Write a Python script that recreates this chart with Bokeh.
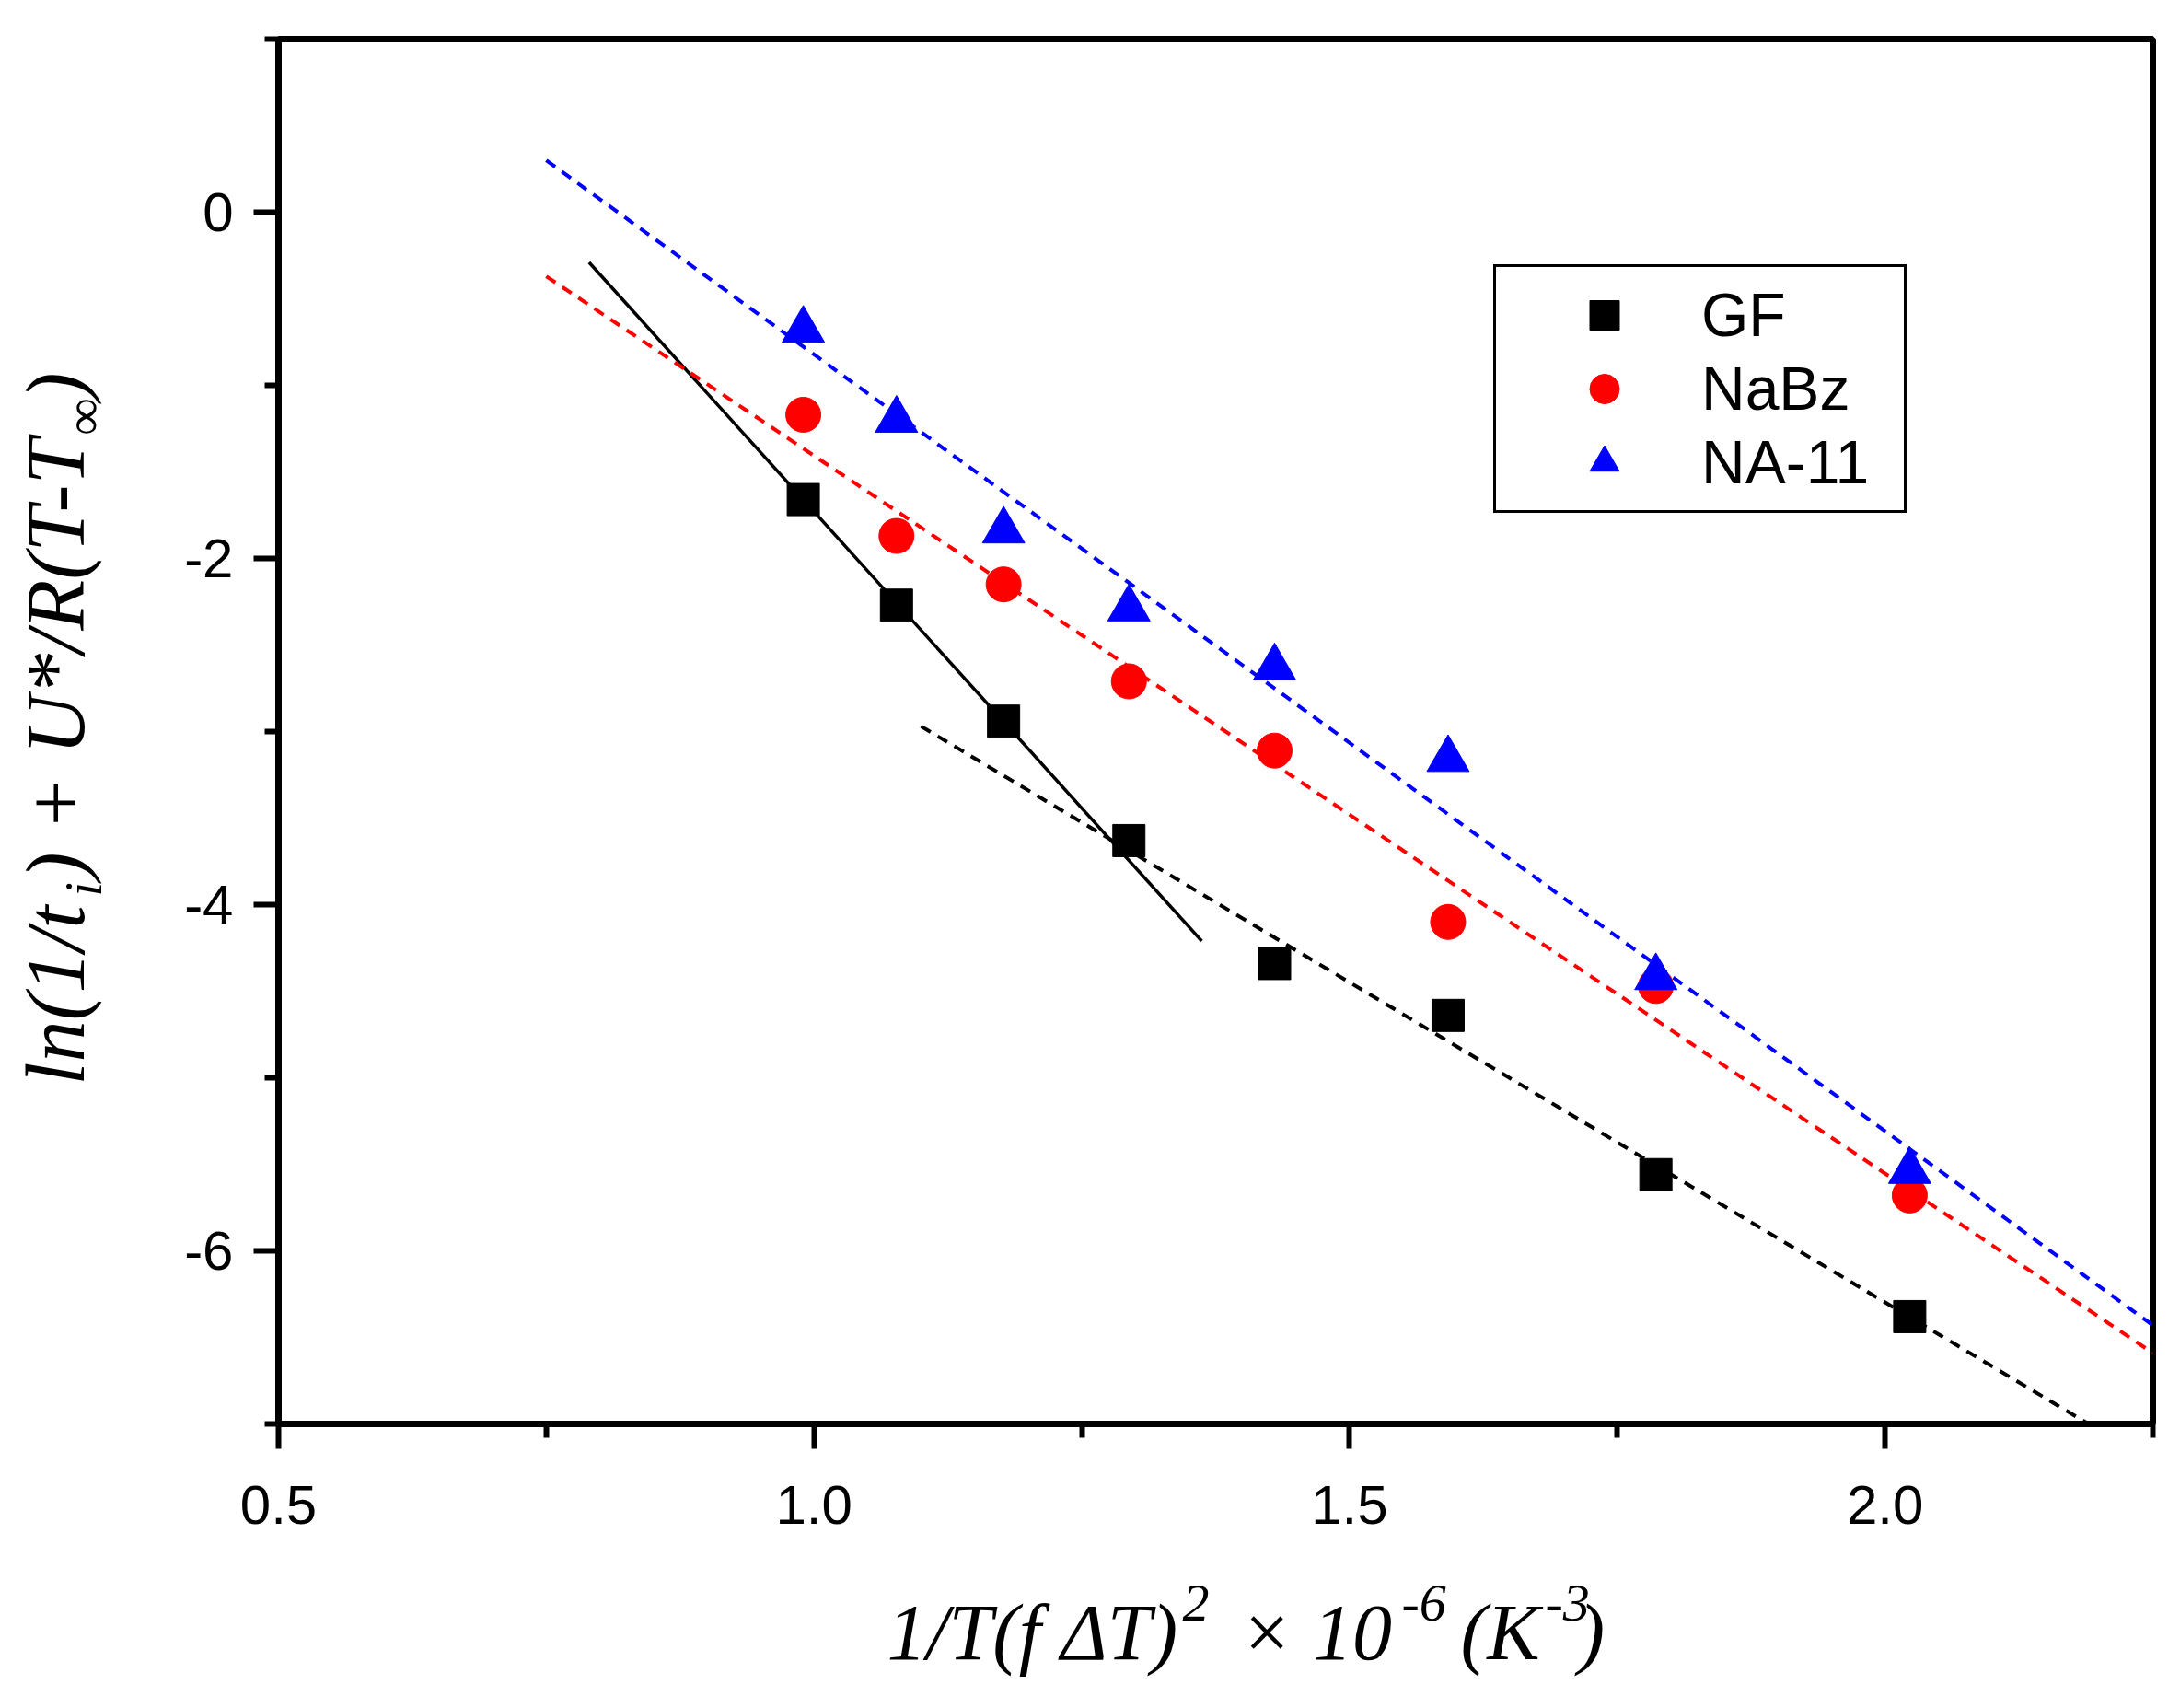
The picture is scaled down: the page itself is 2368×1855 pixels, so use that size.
import math
from bokeh.plotting import figure
from bokeh.layouts import row, column
from bokeh.models import Range1d, FixedTicker, Legend, LegendItem
from bokeh.core.properties import value
from bokeh.embed import file_html
from bokeh.resources import INLINE

# ---------------- data ----------------
x_vals = [0.990, 1.077, 1.177, 1.294, 1.430, 1.592, 1.786, 2.023]
gf_vals = [-1.66, -2.27, -2.94, -3.63, -4.34, -4.64, -5.56, -6.38]
nabz_vals = [-1.17, -1.87, -2.15, -2.71, -3.11, -4.10, -4.47, -5.68]
na11_vals = [-0.68, -1.20, -1.84, -2.29, -2.63, -3.16, -4.42, -5.54]

series_names = ["GF", "NaBz", "NA-11"]

# fitted lines (end points)
fit_na11_x = [0.75, 2.25]
fit_na11_y = [0.30, -6.43]
fit_nabz_x = [0.75, 2.25]
fit_nabz_y = [-0.37, -6.59]
fit_gf_high_x = [1.10, 2.19]
fit_gf_high_y = [-2.97, -7.0]
fit_gf_low_x = [0.79, 1.362]
fit_gf_low_y = [-0.29, -4.21]

x_ticks = [0.5, 1.0, 1.5, 2.0]
x_tick_labels = ["0.5", "1.0", "1.5", "2.0"]
x_minor = [0.75, 1.25, 1.75, 2.25]
y_ticks = [-6, -4, -2, 0]
y_tick_labels = ["-6", "-4", "-2", "0"]
y_minor = [-7, -5, -3, -1, 1]

# axis title pieces: (text, font px, page position along the text, shift)
x_title_pieces = [("1/T(f ΔT)", 86, 965, 0), ("2", 58, 1286, 40),
                  ("× 10", 86, 1348, 0), ("-6", 58, 1524, 40),
                  ("(K", 86, 1588, 0), ("-3", 58, 1680, 40), (")", 86, 1716, 0)]
y_title_pieces = [("ln(1/t", 90, 1180, 0), ("i", 56, 975, 22),
                  (") + U*/R(T-T", 90, 957, 0), ("∞", 56, 474, 22),
                  (")", 90, 436, 0)]
X_TITLE_BASE = 1798      # page y of x-title baseline
Y_TITLE_BASE = 86        # page x of y-title baseline
BASE_FIX = 0.27          # renderer puts the alphabetic baseline this many em low

# ---------------- layout constants ----------------
OFF = 2                      # page px = canvas px + OFF
WL = 150                     # width of the y-title strip
FL, FT, FW, FH = 302, 42, 2036, 1504   # frame position (canvas px, whole page)
BOT = 140                    # main plot bottom border
RIGHT = 10
TOTAL_W = FL + FW + RIGHT
MAIN_H = FT + FH + BOT
XT_H = 1839 - MAIN_H

X0, X1 = 0.5, 2.25
Y0, Y1 = -7.0, 1.0


def no_align(f):
    try:
        f.frame_align = False
    except Exception:
        pass


p = figure(frame_width=FW, frame_height=FH,
           x_range=Range1d(X0, X1), y_range=Range1d(Y0, Y1),
           output_backend="svg", toolbar_location=None,
           min_border_left=FL - WL, min_border_top=FT,
           min_border_right=RIGHT, min_border_bottom=BOT,
           background_fill_color="white", border_fill_color="white")
no_align(p)

p.xgrid.visible = False
p.ygrid.visible = False
p.outline_line_color = "black"
p.outline_line_width = 7
p.outline_line_alpha = 1.0

p.xaxis.ticker = FixedTicker(ticks=x_ticks, minor_ticks=x_minor)
p.yaxis.ticker = FixedTicker(ticks=y_ticks, minor_ticks=y_minor)
p.xaxis.major_label_overrides = {t: s for t, s in zip(x_ticks, x_tick_labels)}
p.yaxis.major_label_overrides = {t: s for t, s in zip(y_ticks, y_tick_labels)}

for ax in (p.xaxis[0], p.yaxis[0]):
    ax.axis_line_color = "black"
    ax.axis_line_width = 7
    ax.major_tick_line_color = "black"
    ax.minor_tick_line_color = "black"
    ax.major_tick_line_width = 6
    ax.minor_tick_line_width = 6
    ax.major_tick_in = 0
    ax.major_tick_out = 27
    ax.minor_tick_in = 0
    ax.minor_tick_out = 15
    ax.major_label_text_font = "Liberation Sans"
    ax.major_label_text_font_size = "60px"
    ax.major_label_text_color = "black"
p.xaxis.major_label_standoff = 40
p.yaxis.major_label_standoff = 22

# ---------------- lines ----------------
p.line(fit_gf_low_x, fit_gf_low_y, line_color="black", line_width=3.5)
p.line(fit_gf_high_x, fit_gf_high_y, line_color="black", line_width=4, line_dash="12 9")
p.line(fit_nabz_x, fit_nabz_y, line_color="red", line_width=4, line_dash="12 9")
p.line(fit_na11_x, fit_na11_y, line_color="blue", line_width=4, line_dash="12 9")

# ---------------- markers ----------------
r_gf = p.scatter(x_vals, gf_vals, marker="square", size=35, color="black")
r_nabz = p.scatter(x_vals, nabz_vals, marker="circle", size=38, color="red")
r_na11 = p.scatter(x_vals, na11_vals, marker="triangle", size=46, color="blue")

legend = Legend(items=[LegendItem(label=series_names[0], renderers=[r_gf]),
                       LegendItem(label=series_names[1], renderers=[r_nabz]),
                       LegendItem(label=series_names[2], renderers=[r_na11])],
                location=(1320, 989))
legend.border_line_color = "black"
legend.border_line_width = 3
legend.border_line_alpha = 1.0
legend.background_fill_color = "white"
legend.background_fill_alpha = 1.0
legend.padding = 12
legend.spacing = 0
legend.margin = 0
legend.glyph_width = 211
legend.glyph_height = 80
legend.label_standoff = 0
legend.label_width = 208
legend.label_text_font = "Liberation Sans"
legend.label_text_font_size = "66px"
legend.label_text_color = "black"
p.add_layout(legend)


# ---------------- axis titles (rich text built from pieces) ----------------
def blank(width, height, y_lo, y_hi, top, bottom, right):
    f = figure(width=width, height=height,
               x_range=Range1d(0, width - right), y_range=Range1d(y_lo, y_hi),
               x_axis_type=None, y_axis_type=None,
               output_backend="svg", toolbar_location=None,
               min_border_left=0, min_border_right=right,
               min_border_top=top, min_border_bottom=bottom,
               background_fill_color="white", border_fill_color="white")
    no_align(f)
    f.outline_line_color = None
    f.xgrid.visible = False
    f.ygrid.visible = False
    return f


def piece(f, x, y, text, size, angle=0.0):
    f.text(x=[x], y=[y], text=[text], angle=angle,
           text_font=value("Liberation Serif"), text_font_style="italic",
           text_font_size=f"{size}px", text_color="black",
           text_align="left", text_baseline="alphabetic")


# y title strip (left of the plot): data y = MAIN_H - canvas y
ly = blank(WL, MAIN_H, BOT, MAIN_H - FT, FT, BOT, 0)
for txt, sz, pos, drop in y_title_pieces:
    bx_ = Y_TITLE_BASE - OFF + drop - BASE_FIX * sz
    piece(ly, bx_, MAIN_H - (pos - OFF), txt, sz, angle=math.pi / 2)

# x title strip (below the plot): data y = XT_H - canvas y
bx = blank(TOTAL_W, XT_H, 0, XT_H, 0, 0, RIGHT)
for txt, sz, pos, rise in x_title_pieces:
    by_ = XT_H - (X_TITLE_BASE - OFF - MAIN_H) + rise + BASE_FIX * sz
    piece(bx, pos - OFF, by_, txt, sz)

layout = column(row(ly, p, spacing=0), bx, spacing=0)
open("out.html", "w").write(file_html(layout, INLINE))
